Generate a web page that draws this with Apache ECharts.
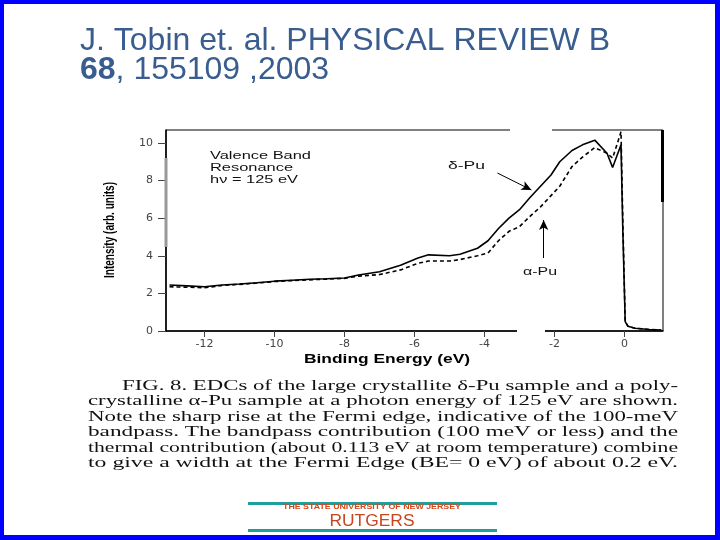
<!DOCTYPE html>
<html><head><meta charset="utf-8">
<script src="https://cdn.jsdelivr.net/npm/echarts@6/dist/echarts.min.js"></script>
<style>html,body{margin:0;padding:0;background:#fff}#c{width:720px;height:540px}</style>
</head><body><div id="c"></div>
<script>
// ---- data ----
const energy = [-13.0,-12.5,-12.0,-11.5,-11.0,-10.5,-10.0,-9.5,-9.0,-8.5,-8.0,-7.6,-7.0,-6.4,-5.9,-5.6,-5.0,-4.7,-4.2,-3.9,-3.6,-3.3,-3.0,-2.7,-2.4,-2.1,-1.85,-1.5,-1.2,-0.85,-0.5,-0.34,-0.2,-0.1,-0.05,0.02,0.1,0.3,0.7,1.05];
const deltaPu = [2.45,2.4,2.35,2.45,2.5,2.57,2.65,2.7,2.75,2.78,2.82,2.98,3.15,3.5,3.88,4.05,4.0,4.08,4.4,4.8,5.45,6.0,6.45,7.1,7.7,8.3,9.0,9.6,9.9,10.15,9.45,8.7,9.4,9.9,5.5,0.5,0.25,0.15,0.08,0.05];
const alphaPu = [2.35,2.33,2.3,2.42,2.48,2.55,2.63,2.68,2.72,2.76,2.8,2.92,3.0,3.25,3.6,3.72,3.72,3.8,4.0,4.15,4.8,5.3,5.55,6.1,6.6,7.2,7.7,8.75,9.25,9.75,9.45,9.2,10.0,10.6,6.0,0.5,0.25,0.15,0.08,0.05];
const xTicks = [-12,-10,-8,-6,-4,-2,0];
const yTicks = [0,2,4,6,8,10];
const titleLine1 = 'J. Tobin et. al. PHYSICAL REVIEW B';
const titleLine2a = '68';
const titleLine2b = ', 155109 ,2003';
const xName = 'Binding Energy (eV)';
const yName = 'Intensity (arb. units)';
const noteLines = ['Valence Band','Resonance','h\u03bd = 125 eV'];
const deltaLabel = '\u03b4-Pu';
const alphaLabel = '\u03b1-Pu';
const captionLines = [
  'FIG. 8. EDCs of the large crystallite \u03b4-Pu sample and a poly-',
  'crystalline \u03b1-Pu sample at a photon energy of 125 eV are shown.',
  'Note the sharp rise at the Fermi edge, indicative of the 100-meV',
  'bandpass. The bandpass contribution (100 meV or less) and the',
  'thermal contribution (about 0.113 eV at room temperature) combine',
  'to give a width at the Fermi Edge (BE= 0 eV) of about 0.2 eV.'
];
const footerSmall = 'THE STATE UNIVERSITY OF NEW JERSEY';
const footerBig = 'RUTGERS';

// ---- helpers ----
const ctx = document.createElement('canvas').getContext('2d');
function tw(text, font){ ctx.font = font; return ctx.measureText(text).width; }
function txt(text, x, y, font, fill, opts){
  opts = opts || {};
  const el = {type:'text', x:x, y:y, z:10,
    style:{text:text, font:font, fill:fill, align:opts.align||'left', verticalAlign:'middle',
           textAlign:opts.align||'left', textVerticalAlign:'middle'}};
  if (opts.width) el.scaleX = opts.width / tw(text, font);
  if (opts.scaleX) el.scaleX = opts.scaleX;
  if (opts.rotation) el.rotation = opts.rotation;
  return el;
}

const graphics = [];
// blue slide frame
graphics.push({type:'rect', shape:{x:0,y:0,width:720,height:4}, style:{fill:'#0000ff'}, z:20});
graphics.push({type:'rect', shape:{x:0,y:0,width:4,height:540}, style:{fill:'#0000ff'}, z:20});
graphics.push({type:'rect', shape:{x:715,y:0,width:5,height:540}, style:{fill:'#0000ff'}, z:20});
graphics.push({type:'rect', shape:{x:0,y:535,width:720,height:5}, style:{fill:'#0000ff'}, z:20});

// title
const tFont = "32px 'Liberation Sans', Arial, sans-serif";
const tBold = "bold 32px 'Liberation Sans', Arial, sans-serif";
graphics.push(txt(titleLine1, 80, 41, tFont, '#3a5d8f'));
graphics.push(txt(titleLine2a, 80, 70, tBold, '#3a5d8f'));
graphics.push(txt(titleLine2b, 80 + tw(titleLine2a, tBold), 70, tFont, '#3a5d8f'));

// scan artefacts on the frame
graphics.push({type:'rect', shape:{x:510,y:127,width:42,height:6}, style:{fill:'#fff'}, z:5});
graphics.push({type:'rect', shape:{x:517,y:329,width:28,height:5}, style:{fill:'#fff'}, z:5});
graphics.push({type:'rect', shape:{x:164.5,y:158,width:3,height:89}, style:{fill:'#999'}, z:6});
graphics.push({type:'rect', shape:{x:661,y:130,width:3,height:72}, style:{fill:'#000'}, z:6});

// axis names
graphics.push(txt(xName, 387, 359, "bold 13px 'Liberation Sans', Arial, sans-serif", '#000', {align:'center', width:166}));
graphics.push(txt(yName, 110, 230, "bold 14px 'Liberation Sans', Arial, sans-serif", '#000', {align:'center', width:96, rotation:Math.PI/2}));

// in-plot notes
const nFont = "11px 'Liberation Sans', Arial, sans-serif";
const nScale = 101 / tw(noteLines[0], nFont);
noteLines.forEach((s,i)=>graphics.push(txt(s, 210, 156 + i*12, nFont, '#111', {scaleX:nScale})));
graphics.push(txt(deltaLabel, 448, 166, nFont, '#111', {width:37}));
graphics.push(txt(alphaLabel, 523, 272, nFont, '#111', {width:34}));

// caption
const cFont = "15px 'Liberation Serif', 'Times New Roman', serif";
const cRight = 678;
captionLines.forEach((s,i)=>{
  const x0 = i === 0 ? 122 : 88;
  graphics.push(txt(s, x0, 386 + i*15.4, cFont, '#111', {width:cRight - x0}));
});

// footer
graphics.push({type:'rect', shape:{x:248,y:502,width:249,height:3}, style:{fill:'#1f9e9e'}, z:10});
graphics.push({type:'rect', shape:{x:248,y:529,width:249,height:3}, style:{fill:'#1f9e9e'}, z:10});
graphics.push(txt(footerSmall, 372, 507, "bold 7px 'Liberation Sans', Arial, sans-serif", '#d5481c', {align:'center', width:178}));
graphics.push(txt(footerBig, 372, 522, "16px 'Liberation Sans', Arial, sans-serif", '#c8461e', {align:'center', width:85}));

const chart = echarts.init(document.getElementById('c'), null, {renderer:'canvas'});
chart.setOption({
  animation:false,
  backgroundColor:'#fff',
  grid:{left:166, top:130, width:497, height:201, show:true, borderColor:'#000', borderWidth:1, backgroundColor:'transparent'},
  xAxis:{type:'value', min:-13.1, max:1.1,
    axisLine:{show:true, onZero:false, lineStyle:{color:'#000', width:1.5}},
    axisTick:{show:true, inside:false, length:6, customValues:xTicks, lineStyle:{color:'#444'}},
    axisLabel:{show:true, customValues:xTicks, margin:8, fontSize:11, fontFamily:"'DejaVu Sans', sans-serif", color:'#444', formatter:v=>String(v)},
    splitLine:{show:false}},
  yAxis:{type:'value', min:0, max:10.69,
    axisLine:{show:true, onZero:false, lineStyle:{color:'#000', width:1.5}},
    axisTick:{show:true, inside:false, length:8, customValues:yTicks, lineStyle:{color:'#444'}},
    axisLabel:{show:true, customValues:yTicks, margin:13, fontSize:11, fontFamily:"'DejaVu Sans', sans-serif", color:'#444', formatter:v=>String(v)},
    splitLine:{show:false}},
  series:[
    {name:'\u03b1-Pu', type:'line', showSymbol:false, symbol:'none', z:3,
     data:energy.map((e,i)=>[e, alphaPu[i]]),
     lineStyle:{color:'#000', width:1.6, type:[4,3]}},
    {name:'\u03b4-Pu', type:'line', showSymbol:false, symbol:'none', z:4,
     data:energy.map((e,i)=>[e, deltaPu[i]]),
     lineStyle:{color:'#000', width:1.6},
     markLine:{silent:true, symbol:['none','arrow'], symbolSize:[7,10], label:{show:false},
       lineStyle:{color:'#000', width:1, type:'solid'},
       data:[
         [{coord:[-3.63, 8.4]}, {coord:[-2.66, 7.5]}],
         [{coord:[-2.31, 3.88]}, {coord:[-2.31, 5.9]}]
       ]}}
  ],
  graphic:graphics
});
</script></body></html>
